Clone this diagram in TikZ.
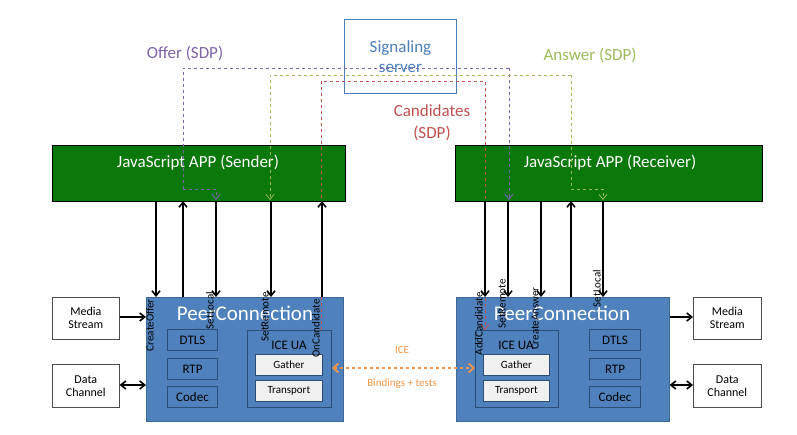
\documentclass[tikz,border=0pt]{standalone}
\usepackage{fontspec}
\setmainfont{Carlito}
\usetikzlibrary{arrows.meta}
\definecolor{jsg}{HTML}{0A780A}
\definecolor{pcb}{HTML}{4F81BD}
\definecolor{pcd}{HTML}{2C4D75}
\definecolor{sigb}{HTML}{4A7EBB}
\definecolor{ofp}{HTML}{7E63A8}
\definecolor{ansg}{HTML}{9BBB59}
\definecolor{candr}{HTML}{C0504D}
\definecolor{iceo}{HTML}{F79646}
\begin{document}
\begin{tikzpicture}[x=1pt,y=-1pt,
 box/.style={draw=#1,line width=1pt,inner sep=0pt},
 js/.style={fill=jsg,draw=black,line width=1pt,text=white,font=\fontsize{17}{17}\selectfont},
 pc/.style={fill=pcb,draw=pcb!80!black,line width=0.6pt},
 inner/.style={fill=pcb,draw=pcd,line width=1pt,font=\fontsize{13}{13}\selectfont},
 grey/.style={fill=gray!12,draw=pcd,line width=0.8pt,font=\fontsize{11}{11}\selectfont},
 side/.style={fill=white,draw=black!70,line width=0.6pt,align=center,font=\fontsize{12}{13}\selectfont},
 api/.style={-{Straight Barb[length=5pt,width=8pt]},line width=1.6pt},
 lab/.style={rotate=90,anchor=south east,font=\fontsize{11}{11}\selectfont,inner sep=2pt},
 sig/.style={dashed,line width=1pt,-{Straight Barb[length=5pt,width=8pt]}}]
\useasboundingbox (0,0) rectangle (797,434);
% signaling
\node[box=sigb,draw,minimum width=112,minimum height=74,anchor=north west,align=center,text=sigb,font=\fontsize{17}{20}\selectfont] (sig) at (344,19) {Signaling\\server};
\node[text=ofp,font=\fontsize{17}{17}\selectfont] (offer) at (185,53) {Offer (SDP)};
\node[text=ansg,font=\fontsize{17}{17}\selectfont] (ans) at (590,55) {Answer (SDP)};
\node[text=candr,align=center,font=\fontsize{17}{22}\selectfont] (cand) at (432,123) {Candidates\\(SDP)};
% JS apps
\node[js,minimum width=293,minimum height=56,anchor=north west] (jsS) at (52,145) {};
\node[text=white,font=\fontsize{17}{17}\selectfont] (jsSt) at (198,163) {JavaScript APP (Sender)};
\node[js,minimum width=307,minimum height=56,anchor=north west] (jsR) at (455,145) {};
\node[text=white,font=\fontsize{17}{17}\selectfont] (jsRt) at (610,163) {JavaScript APP (Receiver)};
% peer connections
\node[pc,minimum width=197,minimum height=124,anchor=north west] (pcS) at (146,297) {};
\node[text=white,font=\fontsize{21}{21}\selectfont] (pcSt) at (245,313) {PeerConnection};
\node[pc,minimum width=213,minimum height=124,anchor=north west] (pcR) at (456,297) {};
\node[text=white,font=\fontsize{21}{21}\selectfont] (pcRt) at (562,313) {PeerConnection};
% inner boxes sender
\node[inner,minimum width=50,minimum height=21,anchor=north west] (dtlsS) at (167,329) {DTLS};
\node[inner,minimum width=50,minimum height=21,anchor=north west] (rtpS) at (167,358) {RTP};
\node[inner,minimum width=50,minimum height=21,anchor=north west] (codS) at (167,386) {Codec};
\node[inner,minimum width=84,minimum height=77,anchor=north west] (iceS) at (247,330) {};
\node[font=\fontsize{13}{13}\selectfont] (iceSt) at (289,345) {ICE UA};
\node[grey,minimum width=67,minimum height=21,anchor=north west] (gS) at (255,354) {Gather};
\node[grey,minimum width=67,minimum height=21,anchor=north west] (tS) at (255,380) {Transport};
% inner boxes receiver
\node[inner,minimum width=51,minimum height=21,anchor=north west] (dtlsR) at (589,329) {DTLS};
\node[inner,minimum width=51,minimum height=21,anchor=north west] (rtpR) at (589,358) {RTP};
\node[inner,minimum width=51,minimum height=21,anchor=north west] (codR) at (589,386) {Codec};
\node[inner,minimum width=83,minimum height=77,anchor=north west] (iceR) at (475,330) {};
\node[font=\fontsize{13}{13}\selectfont] (iceRt) at (516,345) {ICE UA};
\node[grey,minimum width=66,minimum height=21,anchor=north west] (gR) at (483,354) {Gather};
\node[grey,minimum width=66,minimum height=21,anchor=north west] (tR) at (483,380) {Transport};
% side boxes
\node[side,minimum width=67,minimum height=42,anchor=north west] (msS) at (52,297) {Media\\Stream};
\node[side,minimum width=67,minimum height=43,anchor=north west] (dcS) at (52,364) {Data\\Channel};
\node[side,minimum width=68,minimum height=42,anchor=north west] (msR) at (693,297) {Media\\Stream};
\node[side,minimum width=68,minimum height=43,anchor=north west] (dcR) at (693,364) {Data\\Channel};
\draw[api] (msS.east|-0,317) -- (pcS.west|-0,317);
\draw[api,{Straight Barb[length=5pt,width=8pt]}-{Straight Barb[length=5pt,width=8pt]}] (dcS.east|-0,385) -- (pcS.west|-0,385);
\draw[api] (pcR.east|-0,317) -- (msR.west|-0,317);
\draw[api,{Straight Barb[length=5pt,width=8pt]}-{Straight Barb[length=5pt,width=8pt]}] (pcR.east|-0,385) -- (dcR.west|-0,385);
% signaling dashed lines
\coordinate (p1) at (183,68); \coordinate (p2) at (509,68);
\draw[ofp,dashed,line width=1pt] (183,189) -- (p1) -- (p2);
\draw[ofp,sig] (p2) -- (509,200);
\draw[ofp,sig] (183,189) -- (216,189) -- (216,200);
\coordinate (g1) at (270,75); \coordinate (g2) at (571,75);
\draw[ansg,sig,line width=0.8pt] (g2) -- (g1) -- (270,200);
\draw[ansg,sig,line width=0.8pt] (g2) -- (571,189) -- (603,189) -- (603,200);
\coordinate (r1) at (321,81); \coordinate (r2) at (485,81);
\draw[candr,sig,line width=0.8pt] (iceS.north-|321,0) -- (r1) -- (r2) -- (iceR.north-|485,0);
% API arrows sender
\draw[api] (156,201) -- (156,297); \node[lab] (l1) at (156,297) {CreateOffer};
\draw[api] (183,297) -- (183,201);
\draw[api] (216,201) -- (216,297); \node[lab] (l2) at (216,290) {SetLocal};
\draw[api] (271,201) -- (271,297); \node[lab] (l3) at (271,290) {SetRemote};
\draw[api] (322,297) -- (322,201); \node[lab] (l4) at (322,297) {OnCandidate};
% receiver
\draw[api] (485,201) -- (485,297); \node[lab] (l5) at (485,290) {AddCandidate};
\draw[api] (508,201) -- (508,297); \node[lab] (l6) at (508,277) {SetRemote};
\draw[api] (541,201) -- (541,297); \node[lab] (l7) at (541,285) {CreateAnswer};
\draw[api] (571,297) -- (571,201);
\draw[api] (603,201) -- (603,297); \node[lab] (l8) at (603,268) {SetLocal};
% ICE
\draw[iceo,dashed,line width=1.8pt,{Straight Barb[length=5pt,width=9pt]}-{Straight Barb[length=5pt,width=9pt]}] (iceS.east|-0,368) -- (iceR.west|-0,368);
\node[text=iceo,font=\fontsize{11}{11}\selectfont] (icet) at (402,350) {ICE};
\node[text=iceo,font=\fontsize{11}{11}\selectfont] (icet2) at (402,384) {Bindings + tests};
\end{tikzpicture}
\end{document}
